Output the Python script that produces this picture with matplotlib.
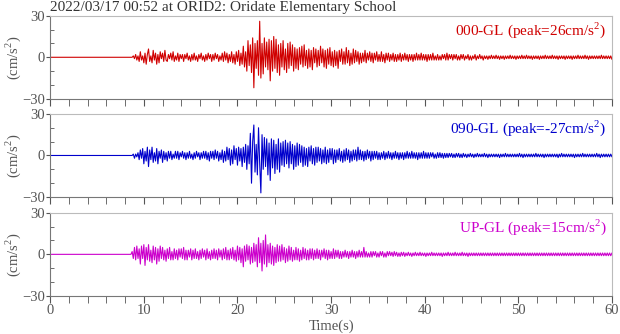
import numpy as np
import matplotlib
matplotlib.use("Agg")
import matplotlib.pyplot as plt
from matplotlib.ticker import MultipleLocator

plt.rcParams['font.family'] = ['Liberation Serif', 'DejaVu Serif']
plt.rcParams['mathtext.fontset'] = 'custom'
plt.rcParams['mathtext.rm'] = 'Liberation Serif'

# dati (cm/s^2), campioni ogni 0.125 s a partire da 8.5 s
# (una riga = un secondo); prima di 8.5 s il segnale e' nullo
title = "2022/03/17 00:52 at ORID2: Oridate Elementary School"
t_start = 8.5
dt = 0.125

ns_acc = [
    0, 0, 0, 1, -1, 2, -2, 1,        # 8.5
    -3, 4, -2, 1, -4, 3, -5, 2,      # 9.5
    6, -3, 1, -4, 5, -2, 3, -5,      # 10.5
    2, -4, 4, -1, 3, -3, 5, -2,      # 11.5
    -3, 2, -1, 3, -2, 4, -3, 1,      # 12.5
    -2, 3, -3, 2, -1, 2, -3, 2,      # 13.5
    -1, 3, -2, 1, -3, 2, -2, 3,      # 14.5
    -2, 1, -3, 2, -1, 3, -2, 1,      # 15.5
    -3, 2, -2, 3, -1, 2, -3, 2,      # 16.5
    -2, 3, -1, 2, -3, 1, -2, 3,      # 17.5
    -3, 4, -2, 3, -4, 2, -3, 4,      # 18.5
    -4, 2, -5, 4, -3, 5, -6, 3,      # 19.5
    -5, 8, -7, 4, -10, 12, -6, 9,    # 20.5
    -11, 14, -22, 10, -8, 12, -13, 26,   # 21.5
    -15, 10, -12, 14, -7, 11, -9, 13,    # 22.5
    -17, 12, -10, 15, -8, 13, -11, 9,    # 23.5
    -13, 10, -7, 12, -9, 6, -11, 10,     # 24.5
    -8, 11, -6, 9, -10, 7, -8, 6,    # 25.5
    -9, 7, -5, 8, -7, 9, -6, 5,      # 26.5
    -8, 6, -7, 5, -9, 7, -4, 6,      # 27.5
    -7, 5, -6, 8, -4, 6, -7, 5,      # 28.5
    -8, 6, -5, 7, -6, 4, -7, 5,      # 29.5
    -6, 4, -8, 5, -3, 6, -5, 4,      # 30.5
    -5, 7, -4, 5, -6, 3, -5, 6,      # 31.5
    -4, 5, -3, 4, -5, 3, -4, 3,      # 32.5
    -3, 5, -4, 3, -2, 4, -3, 3,      # 33.5
    -4, 3, -2, 4, -3, 2, -3, 4,      # 34.5
    -3, 2, -4, 3, -2, 3, -3, 2,      # 35.5
    -2, 3, -3, 2, -3, 2, -2, 3,      # 36.5
    -3, 2, -2, 3, -2, 2, -3, 2,      # 37.5
    -2, 2, -3, 2, -2, 3, -2, 2,      # 38.5
    -2, 3, -2, 2, -2, 2, -3, 2,      # 39.5
    -2, 2, -2, 3, -2, 1, -2, 2,      # 40.5
    -2, 1, -2, 2, -1, 2, -2, 3,      # 41.5
    -2, 2, -1, 2, -2, 2, -1, 2,      # 42.5
    -2, 1, -2, 2, -1, 2, -2, 1,      # 43.5
    -1, 2, -2, 1, -2, 1, -1, 2,      # 44.5
    -2, 1, -1, 2, -1, 1, -2, 1,      # 45.5
    -1, 1, -1.5, 1, -1, 1.5, -1, 1,  # 46.5
    -1, 1.5, -1, 1, -1.5, 1, -1, 1,  # 47.5
    -1.5, 1, -1, 1, -1, 1.5, -1, 1,  # 48.5
    -1, 1, -1.5, 1, -1, 1, -1, 1.5,  # 49.5
    -1, 1, -1, 1.5, -1, 1, -1, 1,    # 50.5
    -1.5, 1, -1, 1, -1, 1, -1.5, 1,  # 51.5
    -1, 1, -1, 1.5, -1, 1, -1, 1,    # 52.5
    -1, 1.5, -1, 1, -1, 1, -1.5, 1,  # 53.5
    -1, 1, -1, 1, -1.5, 1, -1, 1,    # 54.5
    -1, 1, -1.5, 1, -1, 1, -1, 1.5,  # 55.5
    -1, 1, -1, 1, -1, 1.5, -1, 1,    # 56.5
    -1.5, 1, -1, 1, -1, 1, -1, 1,    # 57.5
    -1, 1, -1, 1.5, -1, 1, -1, 1,    # 58.5
    -1, 1, -1, 1, -1.5, 1, -1, 1,    # 59.5
]

ew_acc = [
    0, 0, 0, 1, -2, 1, -1, 2,        # 8.5
    -3, 4, -2, 5, -6, 3, -4, 6,      # 9.5
    -8, 4, -3, 6, -5, 2, -4, 5,      # 10.5
    -6, 3, -2, 4, -5, 3, -3, 2,      # 11.5
    -4, 3, -2, 3, -3, 1, -2, 3,      # 12.5
    -2, 3, -3, 2, -1, 3, -2, 2,      # 13.5
    -3, 2, -2, 3, -2, 1, -3, 2,      # 14.5
    -2, 3, -1, 2, -3, 2, -2, 3,      # 15.5
    -2, 3, -3, 2, -4, 3, -2, 3,      # 16.5
    -3, 4, -2, 3, -4, 2, -3, 4,      # 17.5
    -5, 3, -4, 6, -3, 5, -7, 4,      # 18.5
    -6, 7, -3, 5, -7, 6, -4, 5,      # 19.5
    -8, 6, -5, 8, -10, 7, -6, 16,    # 20.5
    -20, 10, 22, -12, 8, -14, 20, -6,    # 21.5
    -27, 15, -10, 13, -8, 12, -14, 9,    # 22.5
    -18, 12, -9, 11, -13, 8, -10, 12,    # 23.5
    -12, 9, -7, 10, -8, 11, -6, 9,   # 24.5
    -9, 10, -6, 8, -10, 7, -8, 9,    # 25.5
    -7, 8, -5, 7, -8, 6, -7, 5,      # 26.5
    -8, 6, -4, 7, -6, 5, -7, 6,      # 27.5
    -5, 6, -4, 5, -6, 4, -5, 6,      # 28.5
    -6, 4, -5, 5, -3, 5, -6, 4,      # 29.5
    -5, 4, -3, 5, -4, 3, -5, 4,      # 30.5
    -4, 5, -3, 4, -5, 3, -4, 4,      # 31.5
    -3, 4, -4, 6, -3, 4, -3, 3,      # 32.5
    -4, 3, -3, 4, -2, 3, -4, 3,      # 33.5
    -3, 3, -2, 3, -3, 2, -3, 2,      # 34.5
    -2, 3, -3, 2, -2, 3, -2, 2,      # 35.5
    -3, 2, -2, 3, -2, 2, -3, 2,      # 36.5
    -2, 2, -3, 2, -2, 3, -2, 2,      # 37.5
    -2, 3, -2, 2, -2, 2, -3, 2,      # 38.5
    -2, 2, -2, 3, -2, 2, -2, 2,      # 39.5
    -2, 2, -1, 2, -2, 1, -2, 2,      # 40.5
    -1.5, 2, -1.5, 1.5, -2, 1.5, -1.5, 1.5,  # 41.5
    -1.5, 1.5, -1, 1.5, -1.5, 1, -1.5, 1.5,  # 42.5
    -1, 1.5, -1.5, 1, -1.5, 1.5, -1, 1,      # 43.5
    -1.5, 1, -1, 1.5, -1, 1, -1.5, 1,        # 44.5
    -1, 1.5, -1, 1, -1, 1, -1, 1.5,  # 45.5
    -1, 1, -1.5, 1, -1, 1, -1, 1,    # 46.5
    -1, 1, -1, 1, -1.5, 1, -1, 1,    # 47.5
    -1, 1.5, -1, 1, -1, 1, -1, 1,    # 48.5
    -1, 1, -1, 1, -1, 1.5, -1, 1,    # 49.5
    -1.5, 1, -1, 1, -1, 1, -1, 1,    # 50.5
    -1, 1, -1, 1.5, -1, 1, -1, 1,    # 51.5
    -1, 1, -1.5, 1, -1, 1, -1, 1,    # 52.5
    -1, 1, -1, 1, -1, 1, -1.5, 1,    # 53.5
    -1, 1.5, -1, 1, -1, 1, -1, 1,    # 54.5
    -1, 1, -1, 1, -1.5, 1, -1, 1,    # 55.5
    -1, 1, -1, 1.5, -1, 1, -1, 1,    # 56.5
    -1, 1, -1, 1, -1, 1, -1, 1.5,    # 57.5
    -1, 1, -1.5, 1, -1, 1, -1, 1,    # 58.5
    -1, 1, -1, 1, -1, 1.5, -1, 1,    # 59.5
]

ud_acc = [
    0, 0, 2, -3, 5, -4, 6, -3,       # 8.5
    4, -7, 6, -3, 7, -8, 5, -4,      # 9.5
    7, -5, 3, -6, 6, -4, 5, -7,      # 10.5
    4, -5, 6, -3, 5, -4, 3, -5,      # 11.5
    4, -3, 5, -4, 2, -4, 4, -3,      # 12.5
    3, -4, 4, -2, 4, -3, 5, -4,      # 13.5
    3, -4, 3, -2, 4, -4, 3, -3,      # 14.5
    4, -3, 2, -4, 3, -3, 4, -2,      # 15.5
    3, -4, 4, -3, 2, -4, 3, -3,      # 16.5
    4, -3, 3, -4, 4, -2, 3, -4,      # 17.5
    4, -3, 5, -4, 3, -4, 4, -3,      # 18.5
    5, -4, 3, -5, 6, -4, 5, -6,      # 19.5
    4, -9, 6, -5, 7, -4, 6, -7,      # 20.5
    5, -6, 8, -5, 7, -9, 12, -6,     # 21.5
    8, -12, 10, -7, 14, -9, 7, -6,   # 22.5
    8, -7, 6, -8, 5, -6, 7, -5,      # 23.5
    6, -5, 7, -4, 5, -6, 4, -5,      # 24.5
    6, -4, 5, -5, 3, -4, 5, -4,      # 25.5
    4, -5, 3, -4, 5, -3, 4, -4,      # 26.5
    3, -4, 4, -3, 4, -4, 3, -3,      # 27.5
    4, -3, 3, -4, 3, -2, 4, -3,      # 28.5
    3, -4, 3, -3, 2, -3, 4, -3,      # 29.5
    3, -2, 3, -3, 2, -3, 2, -2,      # 30.5
    3, -2, 2, -3, 2, -2, 3, -2,      # 31.5
    2, -3, 2, -2, 3, -2, 2, -2,      # 32.5
    5, -2, 2, -2, 1, -2, 2, -2,      # 33.5
    2, -1, 2, -2, 1, -2, 2, -1,      # 34.5
    2, -2, 1, -2, 2, -1, 2, -1,      # 35.5
    1.5, -1.5, 2, -1, 1.5, -1.5, 1, -1.5,    # 36.5
    1.5, -1, 1.5, -1.5, 1, -1, 1.5, -1,      # 37.5
    1, -1.5, 1, -1, 1.5, -1, 1, -1,  # 38.5
    1.5, -1, 1, -1, 1, -1.5, 1, -1,  # 39.5
    1, -1, 1.5, -1, 1, -1, 1, -1,    # 40.5
    1, -1, 1, -1.5, 1, -1, 1, -1,    # 41.5
    1.5, -1, 1, -1, 1, -1, 1.5, -1,  # 42.5
    1, -1, 1, -1, 1.5, -1, 1, -1,    # 43.5
    1, -1.5, 1, -1, 1, -1, 1, -1,    # 44.5
    1, -1, 1, -1, 1, -1, 1, -1,      # 45.5
    1, -1, 1, -1, 1, -1, 1, -1,      # 46.5
    1, -1, 1, -1, 1, -1, 1, -1,      # 47.5
    1, -1, 1, -1, 1, -1, 1, -1,      # 48.5
    1, -1, 1, -1, 1, -1, 1, -1,      # 49.5
    1, -1, 1, -1, 1, -1, 1, -1,      # 50.5
    1, -1, 1, -1, 1, -1, 1, -1,      # 51.5
    1, -1, 1, -1, 1, -1, 1, -1,      # 52.5
    1, -1, 1, -1, 1, -1, 1, -1,      # 53.5
    1, -1, 1, -1, 1, -1, 1, -1,      # 54.5
    1, -1, 1, -1, 1, -1, 1, -1,      # 55.5
    1, -1, 1, -1, 1, -1, 1, -1,      # 56.5
    1, -1, 1, -1, 1, -1, 1, -1,      # 57.5
    1, -1, 1, -1, 1, -1, 1, -1,      # 58.5
    1, -1, 1, -1, 1, -1, 1, -1,      # 59.5
]

traces = [ns_acc, ew_acc, ud_acc]
labels = ["000-GL (peak=26cm/s$^{2}$)", "090-GL (peak=-27cm/s$^{2}$)", "UP-GL (peak=15cm/s$^{2}$)"]
colors = ["#d00000", "#0000cc", "#cc00cc"]

gray = "#555555"
fig = plt.figure(figsize=(6.2, 3.34), dpi=100)

# posizioni dei pannelli
left, width = 0.081, 0.906
bottoms = [0.704, 0.410, 0.114]
height = 0.249

for i in range(3):
    ax = fig.add_axes([left, bottoms[i], width, height])
    vals = np.array(traces[i], dtype=float)
    t = np.r_[0.0, t_start + dt * np.arange(len(vals))]
    y = np.r_[0.0, vals]
    ax.plot(t, y, color=colors[i], lw=0.8)

    ax.set_xlim(0, 60)
    ax.set_ylim(-30, 30)
    ax.set_yticks([-30, 0, 30])
    ax.yaxis.set_minor_locator(MultipleLocator(10))
    ax.xaxis.set_major_locator(MultipleLocator(10))
    ax.xaxis.set_minor_locator(MultipleLocator(2))
    ax.tick_params(axis='y', which='major', direction='out', length=3, colors=gray, labelsize=10.5, pad=1)
    ax.tick_params(axis='y', which='minor', direction='in', length=3, colors=gray)
    ax.tick_params(axis='x', which='both', direction='out', length=5, colors=gray, labelsize=10.5, pad=1)
    if i < 2:
        ax.tick_params(axis='x', labelbottom=False)

    for s in ['left', 'bottom']:
        ax.spines[s].set_color("#777777")
    for s in ['top', 'right']:
        ax.spines[s].set_color("#bbbbbb")

    ax.set_ylabel("(cm/s$^{2}$)", color=gray, fontsize=10.5)
    ax.yaxis.set_label_coords(-0.049, 0.5)
    ax.text(0.99, 0.95, labels[i], transform=ax.transAxes, ha='right', va='top',
            color=colors[i], fontsize=11)

fig.text(0.081, 1 - 11.5 / 334, title, ha='left', va='baseline', color="#333333", fontsize=11)
fig.text(0.534, 0.022, "Time(s)", ha='center', va='center', color=gray, fontsize=10.5)

plt.savefig("out.png", dpi=100)
